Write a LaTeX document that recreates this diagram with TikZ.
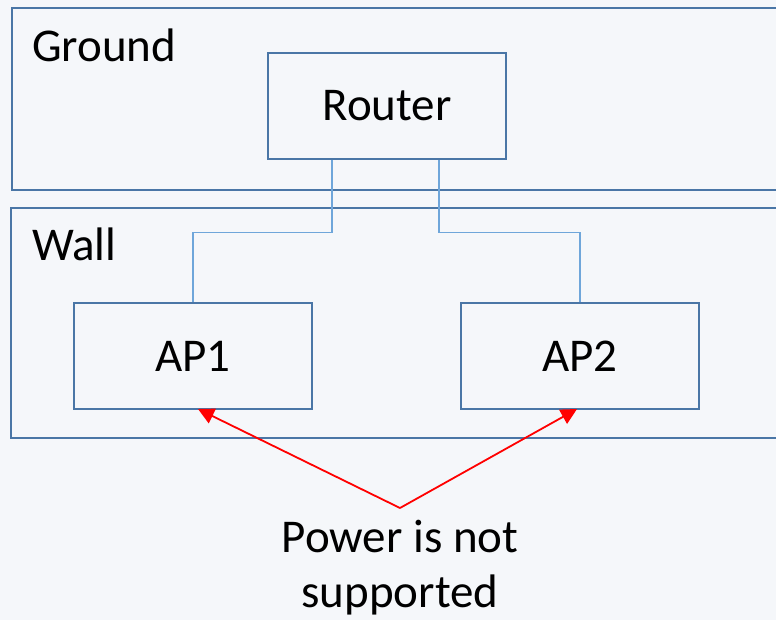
\documentclass[tikz,border=0pt]{standalone}
\usepackage{fontspec}
\setmainfont{Carlito}
\usetikzlibrary{arrows.meta, positioning}
\definecolor{bgcol}{HTML}{F5F7FA}
\definecolor{framecol}{HTML}{4A76A6}
\definecolor{linkcol}{HTML}{6FA6DA}
\tikzset{
    zone/.style={
        rectangle, draw=framecol, line width=2.2pt,
        anchor=north west, inner sep=0pt
    },
    device/.style={
        rectangle, draw=framecol, line width=2pt,
        minimum width=238pt, minimum height=106pt,
        font=\fontsize{47}{56}\selectfont
    },
    zonelabel/.style={anchor=base west, inner sep=0pt, font=\fontsize{47}{56}\selectfont},
    link/.style={draw=linkcol, line width=1.3pt},
    warn/.style={draw=red, line width=1.8pt, -{Triangle[length=16pt, width=16pt]}}
}

\begin{document}
\begin{tikzpicture}[x=1pt, y=-1pt]

\fill[bgcol] (0,0) rectangle (776,620);
\useasboundingbox (0,0) rectangle (776,620);

% Zones (open to the right)
\node[zone, minimum width=790pt, minimum height=182pt] (ground) at (11,7) {};
\node[zone, minimum width=790pt, minimum height=230pt, line width=2pt] (wall) at (10,207) {};
\node[zonelabel] (groundlabel) at (32,62) {Ground};
\node[zonelabel] (walllabel) at (32,261) {Wall};

% Devices
\node[device, line width=2.6pt] (router) at (387,106) {Router};
\node[device] (ap1) at (193,356) {AP1};
\node[device] (ap2) at (580,356) {AP2};

% Cabling
\draw[link] ([xshift=-55pt]router.south) -- ++(0,72) -| (ap1.north);
\draw[link] ([xshift=52pt]router.south) -- ++(0,72) -| (ap2.north);

% Note with arrows
\node[align=center, anchor=north, inner sep=0pt,
      font=\fontsize{47}{55}\selectfont] (note) at (400,520) {Power is not\\supported};
\coordinate (apex) at (400,508);
\coordinate (tip1) at (198,409);
\coordinate (tip2) at (577,409);
\draw[warn] (apex) -- (tip1);
\draw[warn] (apex) -- (tip2);

\end{tikzpicture}
\end{document}
